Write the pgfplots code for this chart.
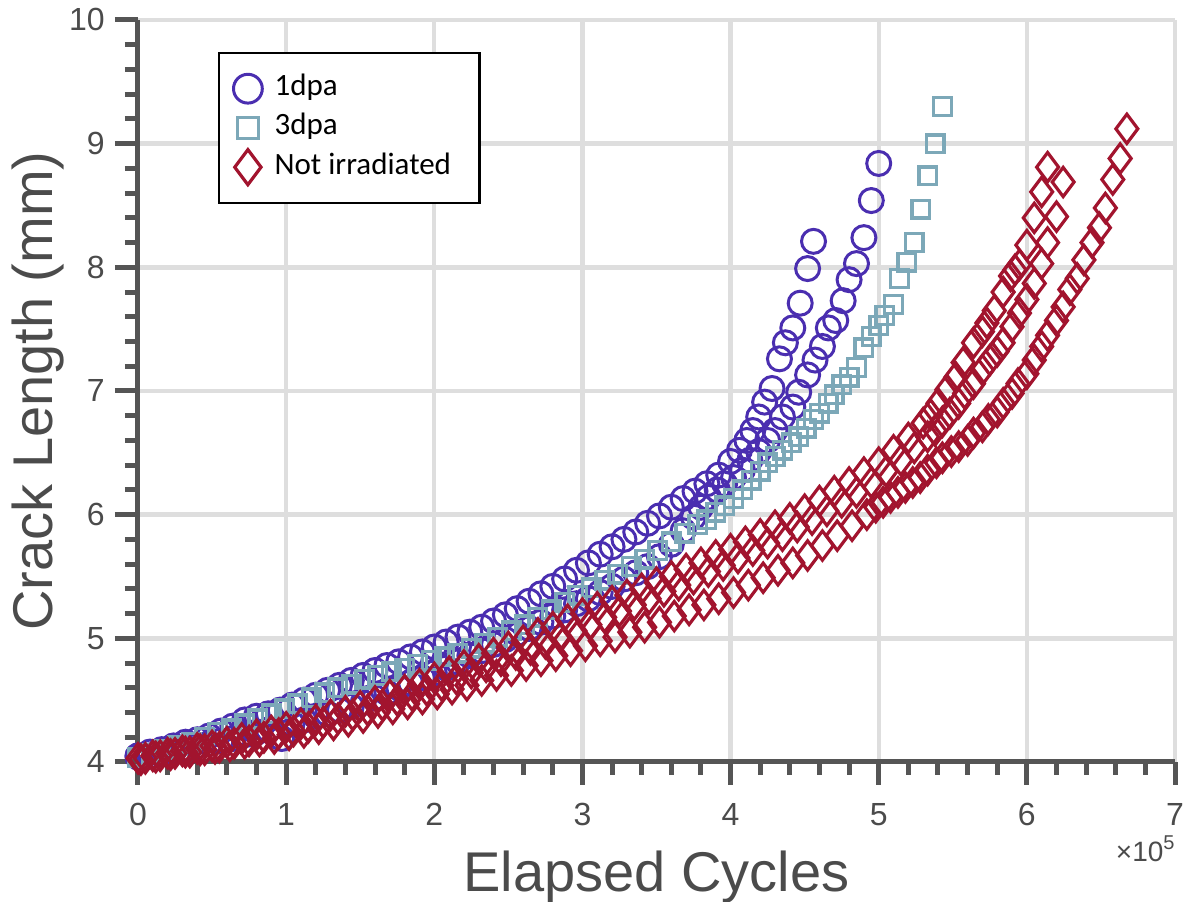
\documentclass[border=0pt]{standalone}
\usepackage{fontspec}
\setmainfont{Liberation Sans}
\newfontfamily\carlito{Carlito}
\usepackage{pgfplots}
\pgfplotsset{compat=1.18}
\definecolor{c1}{RGB}{74,46,176}
\definecolor{c3}{RGB}{124,168,184}
\definecolor{cn}{RGB}{162,20,46}
\definecolor{axgray}{RGB}{85,85,85}
\definecolor{txtgray}{RGB}{75,75,75}
\definecolor{gridgray}{RGB}{222,222,222}
\begin{document}
\begin{tikzpicture}
\begin{axis}[
  scale only axis, width=518.5pt, height=371pt,
  xmin=0, xmax=7, ymin=4, ymax=10,
  axis lines=left,
  axis line style={-, line width=2.5pt, draw=axgray},
  xtick={0,1,2,3,4,5,6,7}, ytick={4,5,6,7,8,9,10},
  minor x tick num=4, minor y tick num=4,
  tick align=outside,
  major tick length=11.5pt, minor tick length=6.5pt,
  tick style={line width=2.5pt, draw=axgray},
  grid=major,
  major grid style={line width=2.2pt, draw=gridgray},
  ticklabel style={font=\fontsize{16}{18}\selectfont, text=txtgray},
  /pgf/number format/assume math mode=true,
  xticklabel style={anchor=north, inner sep=0pt, yshift=-9pt},
  yticklabel style={anchor=east, inner sep=0pt, xshift=-5pt},
  xlabel={Elapsed Cycles}, ylabel={Crack Length (mm)},
  label style={font=\fontsize{28}{32}\selectfont, text=txtgray, inner sep=0pt},
  xlabel style={at={(axis description cs:0.5,-0.1752)}, anchor=base},
  ylabel style={at={(axis description cs:-0.08197,0.5)}, anchor=base},
  clip=false,
  legend style={at={(axis description cs:0.07715,0.95687)}, anchor=north west,
    draw=black, line width=1.2pt, fill=white, inner xsep=4.5pt, inner ysep=10.5pt,
    row sep=5pt, column sep=3.5pt, font=\carlito\fontsize{15.5}{18}\selectfont,
    nodes={inner sep=0pt, text height=10pt, text depth=3pt, text=black}},
  legend cell align=left,
  legend image code/.code={\path (-9pt,-6.5pt) (9pt,6.5pt); \draw[#1, overlay] plot coordinates {(0pt,0pt)};},
  legend image post style={mark options={scale=1.2}},
]
\addplot[only marks, mark=o, mark size=6pt, draw=c1, line width=1.5pt] coordinates {
(0.00,4.05)(0.08,4.08)(0.16,4.10)(0.24,4.13)(0.32,4.16)(0.40,4.18)(0.48,4.21)(0.56,4.25)(0.64,4.29)(0.72,4.34)(0.80,4.37)(0.88,4.39)(0.96,4.42)(1.04,4.46)(1.12,4.50)(1.20,4.54)(1.28,4.58)(1.36,4.62)(1.44,4.66)(1.52,4.70)(1.60,4.74)(1.68,4.78)(1.76,4.81)(1.84,4.85)(1.92,4.89)(2.00,4.93)(2.08,4.97)(2.16,5.01)(2.24,5.05)(2.32,5.09)(2.40,5.14)(2.48,5.19)(2.56,5.24)(2.64,5.30)(2.72,5.36)(2.80,5.42)(2.88,5.48)(2.96,5.55)(3.04,5.61)(3.12,5.68)(3.20,5.74)(3.28,5.80)(3.36,5.86)(3.44,5.93)(3.52,5.99)(3.60,6.06)(3.68,6.13)(3.76,6.19)(3.84,6.25)(3.92,6.32)(4.00,6.43)(4.06,6.52)(4.11,6.60)(4.15,6.68)(4.19,6.79)(4.23,6.91)(4.28,7.02)(4.33,7.26)(4.37,7.39)(4.42,7.51)(4.47,7.71)(4.52,7.99)(4.56,8.21)
};
\addlegendentry{\makebox[98pt][l]{1dpa}}
\addplot[only marks, mark=o, mark size=6pt, draw=c1, line width=1.5pt, forget plot] coordinates {
(0.00,4.04)(0.08,4.05)(0.16,4.07)(0.24,4.09)(0.32,4.11)(0.40,4.13)(0.48,4.15)(0.56,4.17)(0.64,4.19)(0.72,4.22)(0.80,4.24)(0.88,4.26)(0.97,4.19)(1.04,4.31)(1.12,4.34)(1.20,4.37)(1.28,4.39)(1.36,4.42)(1.44,4.45)(1.52,4.48)(1.60,4.52)(1.68,4.56)(1.76,4.60)(1.84,4.64)(1.92,4.68)(2.00,4.72)(2.08,4.76)(2.16,4.81)(2.24,4.86)(2.32,4.90)(2.40,4.95)(2.48,4.99)(2.56,5.04)(2.64,5.08)(2.72,5.13)(2.80,5.18)(2.88,5.23)(2.96,5.28)(3.04,5.32)(3.12,5.37)(3.20,5.42)(3.28,5.48)(3.36,5.53)(3.44,5.58)(3.52,5.66)(3.60,5.76)(3.68,5.87)(3.75,5.98)(3.80,6.06)(3.85,6.14)(3.91,6.20)(3.96,6.25)(4.02,6.30)(4.08,6.36)(4.13,6.44)(4.19,6.51)(4.25,6.60)(4.30,6.68)(4.35,6.79)(4.42,6.87)(4.46,6.99)(4.52,7.13)(4.57,7.25)(4.62,7.36)(4.66,7.51)(4.71,7.57)(4.76,7.73)(4.80,7.90)(4.85,8.03)(4.90,8.24)(4.95,8.54)(5.00,8.84)
};
\addplot[only marks, mark=square, mark size=4.4pt, draw=c3, line width=1.7pt] coordinates {
(0.00,4.04)(0.09,4.07)(0.18,4.10)(0.27,4.13)(0.36,4.16)(0.45,4.20)(0.54,4.24)(0.63,4.27)(0.72,4.31)(0.81,4.35)(0.90,4.39)(0.99,4.43)(1.08,4.47)(1.17,4.52)(1.26,4.56)(1.35,4.60)(1.44,4.63)(1.53,4.67)(1.62,4.70)(1.71,4.73)(1.80,4.76)(1.89,4.79)(1.98,4.82)(2.07,4.85)(2.16,4.88)(2.25,4.92)(2.34,4.96)(2.43,5.01)(2.52,5.06)(2.61,5.11)(2.70,5.17)(2.79,5.23)(2.88,5.29)(2.97,5.35)(3.06,5.41)(3.15,5.47)(3.24,5.52)(3.33,5.58)(3.42,5.64)(3.51,5.71)(3.60,5.78)(3.69,5.85)(3.78,5.92)(3.84,5.96)(3.90,6.02)(3.96,6.07)(4.02,6.13)(4.08,6.20)(4.14,6.28)(4.20,6.35)(4.25,6.42)(4.30,6.47)(4.35,6.52)(4.41,6.58)(4.46,6.63)(4.51,6.70)(4.56,6.77)(4.60,6.82)(4.66,6.90)(4.70,6.97)(4.75,7.05)(4.80,7.11)(4.85,7.19)(4.90,7.35)(4.95,7.44)(5.00,7.53)(5.04,7.61)(5.10,7.70)(5.14,7.91)(5.19,8.04)(5.24,8.20)(5.285,8.47)(5.33,8.74)(5.38,9.00)(5.43,9.30)
};
\addlegendentry{\makebox[98pt][l]{3dpa}}
\addplot[only marks, mark=diamond, mark size=7.3pt, draw=cn, line width=1.6pt] coordinates {
(0.0,4.03)(0.1,4.05)(0.2,4.07)(0.3,4.09)(0.4,4.11)(0.5,4.13)(0.6,4.16)(0.7,4.19)(0.8,4.22)(0.9,4.25)(1.0,4.28)(1.1,4.31)(1.2,4.34)(1.3,4.38)(1.4,4.41)(1.5,4.45)(1.6,4.49)(1.7,4.54)(1.8,4.58)(1.9,4.63)(2.0,4.68)(2.1,4.73)(2.2,4.78)(2.3,4.83)(2.4,4.88)(2.5,4.93)(2.6,4.98)(2.7,5.04)(2.8,5.09)(2.9,5.15)(3.0,5.20)(3.1,5.25)(3.2,5.30)(3.3,5.35)(3.4,5.40)(3.5,5.45)(3.6,5.50)(3.7,5.56)(3.8,5.61)(3.9,5.67)(4.0,5.72)(4.1,5.78)(4.2,5.84)(4.3,5.91)(4.4,5.97)(4.5,6.04)(4.6,6.11)(4.7,6.19)(4.8,6.26)(4.9,6.34)(5.0,6.42)(5.1,6.52)(5.2,6.62)(5.3,6.74)(5.35,6.81)(5.40,6.90)(5.46,7.01)(5.52,7.11)(5.57,7.23)(5.64,7.39)(5.70,7.48)(5.73,7.55)(5.78,7.65)(5.84,7.80)(5.89,7.93)(5.92,7.98)(5.95,8.02)(6.00,8.18)(6.05,8.40)(6.10,8.61)(6.14,8.81)
};
\addlegendentry{\makebox[98pt][l]{Not irradiated}}
\addplot[only marks, mark=diamond, mark size=7.3pt, draw=cn, line width=1.6pt, forget plot] coordinates {
(0.05,4.03)(0.15,4.05)(0.25,4.07)(0.35,4.08)(0.45,4.10)(0.55,4.12)(0.65,4.15)(0.75,4.17)(0.85,4.20)(0.95,4.23)(1.05,4.25)(1.15,4.28)(1.25,4.32)(1.35,4.35)(1.45,4.38)(1.55,4.42)(1.65,4.46)(1.75,4.50)(1.85,4.54)(1.95,4.58)(2.05,4.62)(2.15,4.67)(2.25,4.72)(2.35,4.77)(2.45,4.82)(2.55,4.87)(2.65,4.91)(2.75,4.96)(2.85,5.01)(2.95,5.06)(3.05,5.11)(3.15,5.17)(3.25,5.22)(3.35,5.27)(3.45,5.32)(3.55,5.38)(3.65,5.43)(3.75,5.48)(3.85,5.54)(3.95,5.59)(4.05,5.65)(4.15,5.71)(4.25,5.77)(4.35,5.83)(4.45,5.90)(4.55,5.96)(4.65,6.03)(4.75,6.10)(4.85,6.18)(4.95,6.26)(5.05,6.35)(5.15,6.44)(5.24,6.54)(5.33,6.63)(5.38,6.68)(5.43,6.75)(5.48,6.82)(5.54,6.90)(5.58,6.98)(5.64,7.06)(5.70,7.17)(5.75,7.25)(5.80,7.32)(5.84,7.39)(5.90,7.52)(5.95,7.63)(6.00,7.74)(6.05,7.87)(6.10,8.03)(6.14,8.20)(6.20,8.41)(6.245,8.69)
};
\addplot[only marks, mark=diamond, mark size=7.3pt, draw=cn, line width=1.6pt, forget plot] coordinates {
(0.02,4.02)(0.12,4.04)(0.22,4.06)(0.32,4.08)(0.42,4.10)(0.52,4.11)(0.62,4.13)(0.72,4.15)(0.82,4.17)(0.92,4.19)(1.02,4.22)(1.12,4.24)(1.22,4.27)(1.32,4.30)(1.42,4.33)(1.52,4.36)(1.62,4.40)(1.72,4.43)(1.82,4.47)(1.92,4.51)(2.02,4.55)(2.12,4.59)(2.22,4.62)(2.32,4.66)(2.42,4.70)(2.52,4.74)(2.62,4.78)(2.72,4.82)(2.82,4.86)(2.92,4.90)(3.02,4.94)(3.12,4.98)(3.22,5.01)(3.32,5.05)(3.42,5.09)(3.52,5.13)(3.62,5.18)(3.72,5.23)(3.82,5.27)(3.92,5.32)(4.02,5.37)(4.12,5.43)(4.22,5.49)(4.32,5.55)(4.42,5.61)(4.52,5.67)(4.62,5.75)(4.72,5.83)(4.82,5.91)(4.92,6.00)(4.98,6.06)(5.03,6.10)(5.08,6.14)(5.13,6.18)(5.18,6.22)(5.23,6.26)(5.28,6.30)(5.33,6.36)(5.39,6.42)(5.43,6.46)(5.49,6.51)(5.54,6.55)(5.60,6.60)(5.64,6.66)(5.70,6.71)(5.74,6.77)(5.80,6.83)(5.84,6.90)(5.90,6.98)(5.94,7.06)(6.00,7.14)(6.05,7.25)(6.10,7.36)(6.14,7.45)(6.20,7.57)(6.245,7.68)(6.29,7.82)(6.34,7.91)(6.385,8.06)(6.44,8.20)(6.49,8.32)(6.53,8.48)(6.58,8.71)(6.63,8.88)(6.675,9.12)
};
\node[anchor=base east, inner sep=0pt, text=txtgray, font=\fontsize{14}{16}\selectfont] at (axis description cs:1,-0.13477) {×10\raisebox{0.45em}{\fontsize{10}{12}\selectfont 5}};
\coordinate (bl) at (axis description cs:0,0);
\coordinate (tr) at (axis description cs:1,1);
\end{axis}
\pgfresetboundingbox
\path ([xshift=-69pt,yshift=-70pt]bl) rectangle ([xshift=6.5pt,yshift=10pt]tr);
\end{tikzpicture}
\end{document}
